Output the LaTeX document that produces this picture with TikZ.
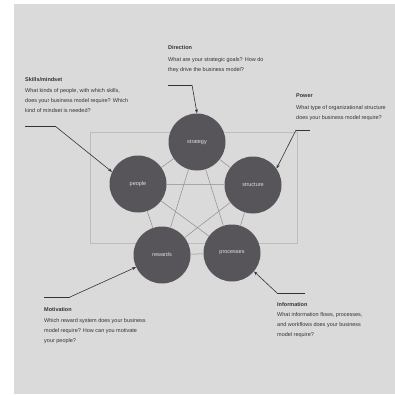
\documentclass[tikz,border=0pt]{standalone}
\usepackage{fontspec}
\setmainfont{Liberation Sans}
\usetikzlibrary{arrows.meta}
\definecolor{paper}{HTML}{DADADA}
\definecolor{disc}{HTML}{57555A}
\definecolor{ink}{HTML}{333333}
\definecolor{link}{HTML}{8E8E8E}
\definecolor{frame}{HTML}{BDBDBD}
\tikzset{
  disc/.style={circle, fill=disc, minimum size=57pt, inner sep=0pt,
    text=paper!85!white, font=\fontsize{5.5}{6}\selectfont},
  ttl/.style={anchor=west, inner sep=0pt, text=ink, font=\fontsize{5.5}{6}\selectfont\bfseries},
  body/.style={anchor=north west, inner sep=0pt, align=left, text=ink,
    font=\fontsize{5.5}{10}\selectfont},
  pointer/.style={draw=ink, line width=0.6pt, -{Stealth[length=4pt,width=3pt]}},
  rule/.style={draw=ink, line width=0.8pt},
  linkline/.style={draw=link, line width=0.5pt}
}
\begin{document}
\begin{tikzpicture}[x=1pt,y=-1pt]
\useasboundingbox (0,0) rectangle (395,394);
\fill[white] (0,0) rectangle (395,394);
\fill[paper] (14,4) rectangle (395,394);
% faint frame
\draw[frame, line width=0.6pt] (90,132) rectangle (297,243);
% discs
\node[disc] (strategy) at (197,142) {strategy};
\node[disc] (people) at (138,184) {people};
\node[disc] (structure) at (253,185) {structure};
\node[disc] (rewards) at (162,255) {rewards};
\node[disc] (processes) at (232,253) {processes};
% links
\foreach \a/\b in {strategy/people,strategy/structure,strategy/rewards,strategy/processes,
  people/structure,people/rewards,people/processes,structure/rewards,structure/processes,rewards/processes}
  \draw[linkline] (\a) -- (\b);
% annotations
\node[ttl] (dirT) at (168,48) {Direction};
\node[body] (dirB) at (168,57) {What are your strategic goals? How do\\they drive the business model?};
\coordinate (dirA) at (168,85);
\coordinate (dirB2) at (192,85);
\draw[rule] (dirA) -- (dirB2);
\draw[pointer] (dirB2) -- (strategy.north);

\node[ttl] (skiT) at (25,80) {Skills/mindset};
\node[body] (skiB) at (25,88) {What kinds of people, with which skills,\\does your business model require? Which\\kind of mindset is needed?};
\coordinate (skiA) at (25,126);
\coordinate (skiB2) at (55,126);
\draw[rule] (skiA) -- (skiB2);
\draw[pointer] (skiB2) -- (people.155);

\node[ttl] (powT) at (296,96) {Power};
\node[body] (powB) at (296,105) {What type of organizational structure\\does your business model require?};
\coordinate (powA) at (296,130);
\coordinate (powB2) at (310,130);
\draw[rule] (powA) -- (powB2);
\draw[pointer] (powA) -- (structure.35);

\coordinate (motA) at (44,297);
\coordinate (motB2) at (70,297);
\draw[rule] (motA) -- (motB2);
\draw[pointer] (motB2) -- (rewards.205);
\node[ttl] (motT) at (44,310) {Motivation};
\node[body] (motB) at (44,318) {Which reward system does your business\\model require? How can you motivate\\your people?};

\coordinate (infA) at (277,293);
\coordinate (infB2) at (305,293);
\draw[rule] (infA) -- (infB2);
\draw[pointer] (infA) -- (processes.-40);
\node[ttl] (infT) at (277,305) {Information};
\node[body] (infB) at (277,312) {What information flows, processes,\\and workflows does your business\\model require?};
\end{tikzpicture}
\end{document}
